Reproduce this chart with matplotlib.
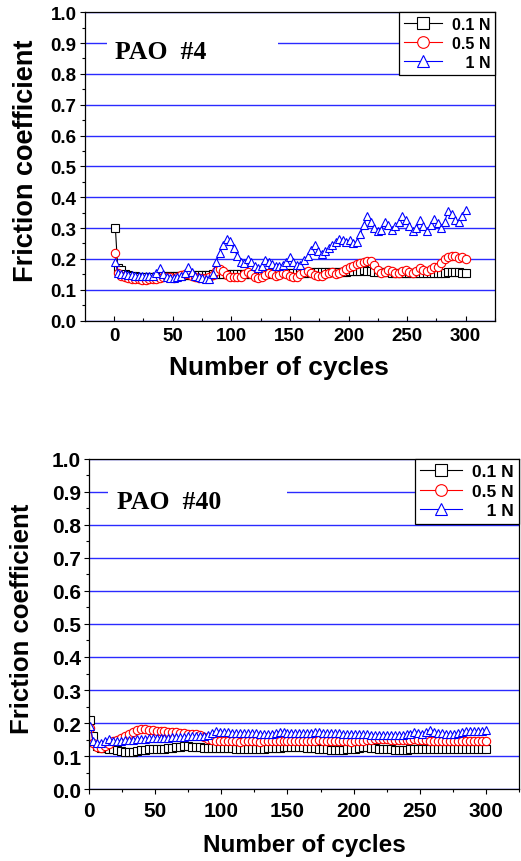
import matplotlib
matplotlib.use("Agg")
import matplotlib.pyplot as plt
from matplotlib.patches import Rectangle
import numpy as np

plt.rcParams['font.family'] = ['Liberation Sans', 'DejaVu Sans']
plt.rcParams['font.weight'] = 'bold'

# cycle numbers of the plotted points (first point, then every 3rd cycle)
cycles = [1] + list(range(3, 301, 3))

# PAO #4
pao4_01 = [0.300,
           0.170, 0.163, 0.152, 0.147, 0.145, 0.143, 0.142, 0.141, 0.141, 0.141,
           0.142, 0.142, 0.143, 0.144, 0.144, 0.145, 0.145, 0.146, 0.146, 0.147,
           0.147, 0.147, 0.148, 0.148, 0.148, 0.149, 0.149, 0.150, 0.150, 0.150,
           0.150, 0.151, 0.151, 0.150, 0.151, 0.151, 0.152, 0.152, 0.151, 0.152,
           0.152, 0.152, 0.153, 0.152, 0.153, 0.153, 0.154, 0.153, 0.154, 0.154,
           0.154, 0.155, 0.155, 0.155, 0.155, 0.156, 0.156, 0.156, 0.157, 0.157,
           0.157, 0.158, 0.158, 0.158, 0.159, 0.159, 0.160, 0.161, 0.162, 0.162,
           0.163, 0.162, 0.161, 0.159, 0.158, 0.157, 0.156, 0.156, 0.155, 0.155,
           0.154, 0.154, 0.153, 0.153, 0.153, 0.153, 0.154, 0.154, 0.154, 0.155,
           0.155, 0.155, 0.155, 0.155, 0.156, 0.156, 0.156, 0.156, 0.155, 0.155]
pao4_05 = [0.220,
           0.155, 0.145, 0.140, 0.138, 0.136, 0.135, 0.134, 0.133, 0.133, 0.134,
           0.135, 0.136, 0.138, 0.140, 0.142, 0.140, 0.137, 0.140, 0.147, 0.152,
           0.150, 0.145, 0.140, 0.138, 0.137, 0.137, 0.140, 0.148, 0.160, 0.168,
           0.160, 0.148, 0.142, 0.140, 0.140, 0.142, 0.150, 0.158, 0.152, 0.142,
           0.138, 0.140, 0.148, 0.155, 0.152, 0.145, 0.148, 0.155, 0.152, 0.145,
           0.140, 0.142, 0.150, 0.156, 0.160, 0.155, 0.147, 0.143, 0.145, 0.150,
           0.155, 0.158, 0.152, 0.155, 0.162, 0.168, 0.172, 0.178, 0.183, 0.187,
           0.190, 0.192, 0.193, 0.180, 0.165, 0.155, 0.158, 0.165, 0.160, 0.153,
           0.155, 0.162, 0.165, 0.158, 0.155, 0.162, 0.170, 0.165, 0.160, 0.168,
           0.172, 0.175, 0.185, 0.198, 0.205, 0.210, 0.208, 0.202, 0.205, 0.200]
pao4_1 = [0.190,
          0.155, 0.150, 0.150, 0.148, 0.147, 0.146, 0.145, 0.144, 0.143, 0.143,
          0.145, 0.155, 0.170, 0.150, 0.140, 0.138, 0.138, 0.140, 0.145, 0.155,
          0.172, 0.158, 0.145, 0.140, 0.137, 0.135, 0.135, 0.150, 0.190, 0.220,
          0.245, 0.265, 0.258, 0.235, 0.210, 0.190, 0.185, 0.198, 0.190, 0.178,
          0.170, 0.178, 0.195, 0.190, 0.182, 0.178, 0.178, 0.180, 0.190, 0.205,
          0.190, 0.180, 0.180, 0.195, 0.210, 0.230, 0.245, 0.225, 0.215, 0.225,
          0.235, 0.245, 0.255, 0.265, 0.260, 0.255, 0.260, 0.250, 0.255, 0.280,
          0.310, 0.340, 0.320, 0.300, 0.290, 0.295, 0.318, 0.310, 0.295, 0.305,
          0.320, 0.340, 0.325, 0.305, 0.290, 0.300, 0.325, 0.305, 0.290, 0.310,
          0.330, 0.315, 0.300, 0.320, 0.355, 0.345, 0.325, 0.320, 0.340, 0.360]

# PAO #40
pao40_01 = [0.210,
            0.160, 0.130, 0.125, 0.125, 0.122, 0.120, 0.118, 0.115, 0.113, 0.112,
            0.113, 0.115, 0.117, 0.118, 0.120, 0.120, 0.120, 0.121, 0.122, 0.123,
            0.124, 0.126, 0.128, 0.130, 0.130, 0.128, 0.127, 0.126, 0.125, 0.125,
            0.124, 0.124, 0.125, 0.124, 0.123, 0.123, 0.122, 0.121, 0.120, 0.120,
            0.120, 0.121, 0.122, 0.122, 0.123, 0.124, 0.125, 0.125, 0.126, 0.126,
            0.126, 0.127, 0.127, 0.126, 0.125, 0.124, 0.123, 0.122, 0.121, 0.120,
            0.119, 0.118, 0.118, 0.119, 0.120, 0.121, 0.122, 0.124, 0.126, 0.127,
            0.125, 0.123, 0.122, 0.121, 0.120, 0.120, 0.119, 0.118, 0.118, 0.119,
            0.120, 0.120, 0.121, 0.121, 0.121, 0.122, 0.122, 0.122, 0.121, 0.121,
            0.122, 0.122, 0.122, 0.122, 0.122, 0.121, 0.121, 0.121, 0.122, 0.122]
pao40_05 = [0.185,
            0.140, 0.127, 0.125, 0.130, 0.137, 0.145, 0.150, 0.155, 0.160, 0.167,
            0.173, 0.178, 0.182, 0.182, 0.180, 0.178, 0.177, 0.176, 0.175, 0.174,
            0.173, 0.172, 0.171, 0.170, 0.168, 0.167, 0.166, 0.163, 0.158, 0.152,
            0.148, 0.146, 0.145, 0.145, 0.146, 0.145, 0.144, 0.143, 0.144, 0.145,
            0.145, 0.144, 0.143, 0.144, 0.145, 0.146, 0.145, 0.146, 0.147, 0.146,
            0.145, 0.146, 0.147, 0.146, 0.145, 0.146, 0.147, 0.148, 0.146, 0.145,
            0.144, 0.145, 0.146, 0.145, 0.144, 0.143, 0.144, 0.145, 0.146, 0.148,
            0.150, 0.152, 0.153, 0.152, 0.151, 0.150, 0.149, 0.148, 0.148, 0.149,
            0.150, 0.151, 0.150, 0.149, 0.148, 0.147, 0.146, 0.146, 0.145, 0.145,
            0.144, 0.144, 0.145, 0.146, 0.147, 0.146, 0.145, 0.145, 0.146, 0.145]
pao40_1 = [0.190,
           0.145, 0.140, 0.140, 0.145, 0.152, 0.146, 0.146, 0.147, 0.148, 0.149,
           0.150, 0.151, 0.152, 0.153, 0.154, 0.154, 0.155, 0.155, 0.156, 0.156,
           0.157, 0.158, 0.158, 0.159, 0.160, 0.160, 0.161, 0.161, 0.162, 0.163,
           0.170, 0.176, 0.174, 0.172, 0.172, 0.171, 0.170, 0.170, 0.170, 0.169,
           0.169, 0.169, 0.168, 0.168, 0.168, 0.168, 0.170, 0.174, 0.172, 0.171,
           0.171, 0.171, 0.170, 0.170, 0.171, 0.171, 0.172, 0.172, 0.171, 0.170,
           0.170, 0.169, 0.169, 0.168, 0.168, 0.168, 0.167, 0.167, 0.166, 0.166,
           0.165, 0.165, 0.165, 0.165, 0.165, 0.165, 0.165, 0.165, 0.165, 0.166,
           0.168, 0.174, 0.170, 0.168, 0.172, 0.178, 0.172, 0.170, 0.169, 0.168,
           0.168, 0.168, 0.169, 0.172, 0.177, 0.175, 0.176, 0.175, 0.176, 0.178]

labels = ['0.1 N', '0.5 N', '   1 N']
colors = ['black', 'red', 'blue']
markers = ['s', 'o', '^']
grid_color = '#2a2aff'


def draw_panel(ax, series, title, xlim, title_box, title_xy, tick_fs, ylab_fs,
               xlab_fs, leg_fs, xtick_dir):
    ax.set_xlim(*xlim)
    ax.set_ylim(0, 1.0)
    ax.set_axisbelow(True)
    ax.grid(axis='y', color=grid_color, lw=1.0)
    ax.add_patch(Rectangle((title_box[0], 0.83), title_box[1] - title_box[0], 0.1,
                           facecolor='white', edgecolor='none', zorder=1))
    ax.text(title_xy[0], title_xy[1], title, family='Liberation Serif',
            weight='bold', fontsize=18.5, ha='left', va='center', zorder=3)

    for vals, c, m, lab in zip(series, colors, markers, labels):
        ax.plot(cycles, vals, color=c, lw=0.8, marker=m, ms=6, mfc='white',
                mec=c, mew=0.8, label=lab, zorder=2)

    ax.set_yticks(np.arange(0, 1.01, 0.1))
    ax.set_yticks(np.arange(0.05, 1.0, 0.1), minor=True)
    ax.set_xticks(np.arange(0, 301, 50))
    ax.set_xticks(np.arange(25, 326, 50), minor=True)
    ax.yaxis.set_major_formatter(plt.FormatStrFormatter('%.1f'))
    ax.tick_params(axis='y', which='major', direction='out', length=3.5, width=0.8,
                   labelsize=tick_fs, pad=2.5)
    ax.tick_params(axis='y', which='minor', direction='out', length=2, width=0.8)
    ax.tick_params(axis='x', which='major', direction=xtick_dir, length=3.5, width=0.8,
                   labelsize=tick_fs, pad=5)
    ax.tick_params(axis='x', which='minor', direction=xtick_dir, length=2, width=0.8)
    for s in ax.spines.values():
        s.set_linewidth(0.9)

    leg = ax.legend(loc='upper right', borderaxespad=0, fancybox=False,
                    edgecolor='black', fontsize=leg_fs, markerscale=1.4,
                    handlelength=2.4, handletextpad=0.6, labelspacing=0.25,
                    borderpad=0.3, framealpha=1)
    leg.get_frame().set_linewidth(0.9)
    ax.set_ylabel('Friction coefficient', fontsize=ylab_fs, weight='bold')
    ax.set_xlabel('Number of cycles', fontsize=xlab_fs, weight='bold')


fig = plt.figure(figsize=(5.21, 8.62), dpi=100)
ax1 = fig.add_axes([0.163, 0.627, 0.787, 0.3577])
ax2 = fig.add_axes([0.171, 0.0835, 0.825, 0.3829])

draw_panel(ax1, [pao4_01, pao4_05, pao4_1], 'PAO  #4', (-25, 325),
           (-6, 140), (0.6, 0.871), 13.5, 19.5, 19, 11.5, 'in')
ax1.yaxis.set_label_coords(-0.112, 0.52)
ax1.xaxis.set_label_coords(0.473, -0.112)
ax1.xaxis.label.set_va('top')

draw_panel(ax2, [pao40_01, pao40_05, pao40_1], 'PAO  #40', (0, 325),
           (14, 150), (21, 0.87), 15, 18.5, 17.5, 12.5, 'out')
ax2.yaxis.set_label_coords(-0.128, 0.52)
ax2.xaxis.set_label_coords(0.5, -0.132)
ax2.xaxis.label.set_va('top')

fig.savefig('out.png', dpi=100)
